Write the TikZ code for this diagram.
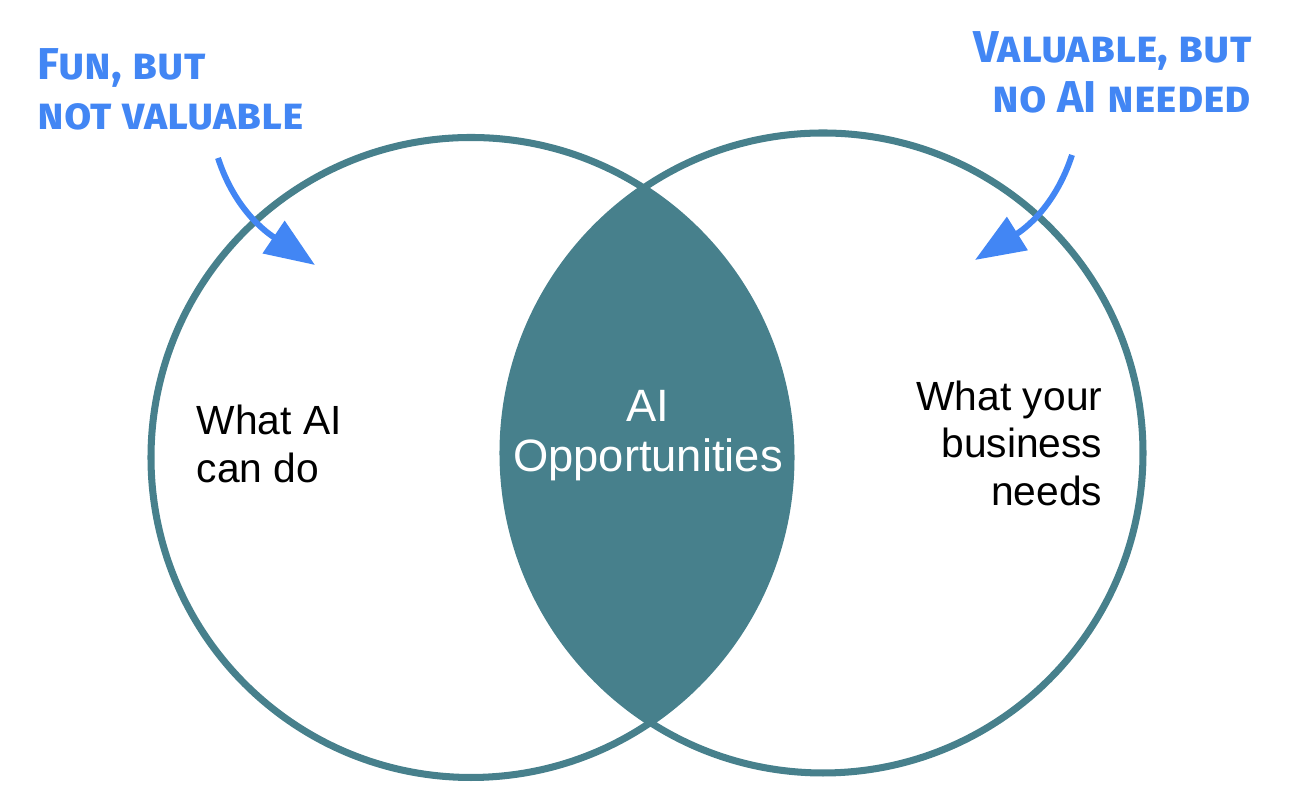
\documentclass[tikz,border=0pt]{standalone}
\usepackage{fontspec}
\setmainfont{Liberation Sans}
\newfontfamily\notefont{Fira Sans}
\usetikzlibrary{arrows.meta,positioning}

\definecolor{setteal}{HTML}{47808C}
\definecolor{noteblue}{HTML}{4286F4}

\tikzset{
  setcircle/.style={circle, draw=setteal, line width=2pt, minimum size=6.4cm, inner sep=0pt},
  settext/.style={font=\fontsize{11.6}{13.5}\selectfont, inner sep=0pt},
  lenstext/.style={font=\fontsize{12.9}{14.2}\selectfont, inner sep=0pt, text=white},
  notetext/.style={font=\notefont\bfseries\fontsize{12.7}{14.2}\selectfont, text=noteblue, inner sep=0pt},
  notearrow/.style={draw=noteblue, line width=1.7pt, -{Triangle[length=5mm, width=3.8mm]}}
}

\begin{document}
\begin{tikzpicture}
\useasboundingbox (0,0) rectangle (12.92,-7.98);

% the two sets
\node[setcircle] (leftset) at (4.71,-4.575) {};
\node[setcircle] (rightset) at (8.23,-4.53) {};

% overlap
\begin{scope}
  \clip (leftset.center) circle (3.2cm);
  \fill[setteal] (rightset.center) circle (3.2cm);
\end{scope}

\node[settext, anchor=west, align=left] (aican) at (1.96,-4.44) {What AI\\can do};
\node[lenstext, align=center] (overlap) at (6.48,-4.36) {AI\\Opportunities};
\node[settext, anchor=east, align=right] (bizneeds) at (11.03,-4.43) {What your\\business\\needs};

% notes
\node[notetext, anchor=north west, align=left] (funnote) at (0.37,-0.48) {\textsc{Fun, but}\\\textsc{not valuable}};
\node[notetext, anchor=north east, align=right] (valnote) at (12.52,-0.31) {\textsc{Valuable, but}\\\textsc{no AI needed}};

\coordinate (funtail) at (2.18,-1.58);
\coordinate (funtip) at (3.15,-2.65);
\coordinate (valtail) at (10.72,-1.55);
\coordinate (valtip) at (9.75,-2.60);

\draw[notearrow] (funtail) to[out=-72, in=146] (funtip);
\draw[notearrow] (valtail) to[out=-108, in=32] (valtip);
\end{tikzpicture}
\end{document}
